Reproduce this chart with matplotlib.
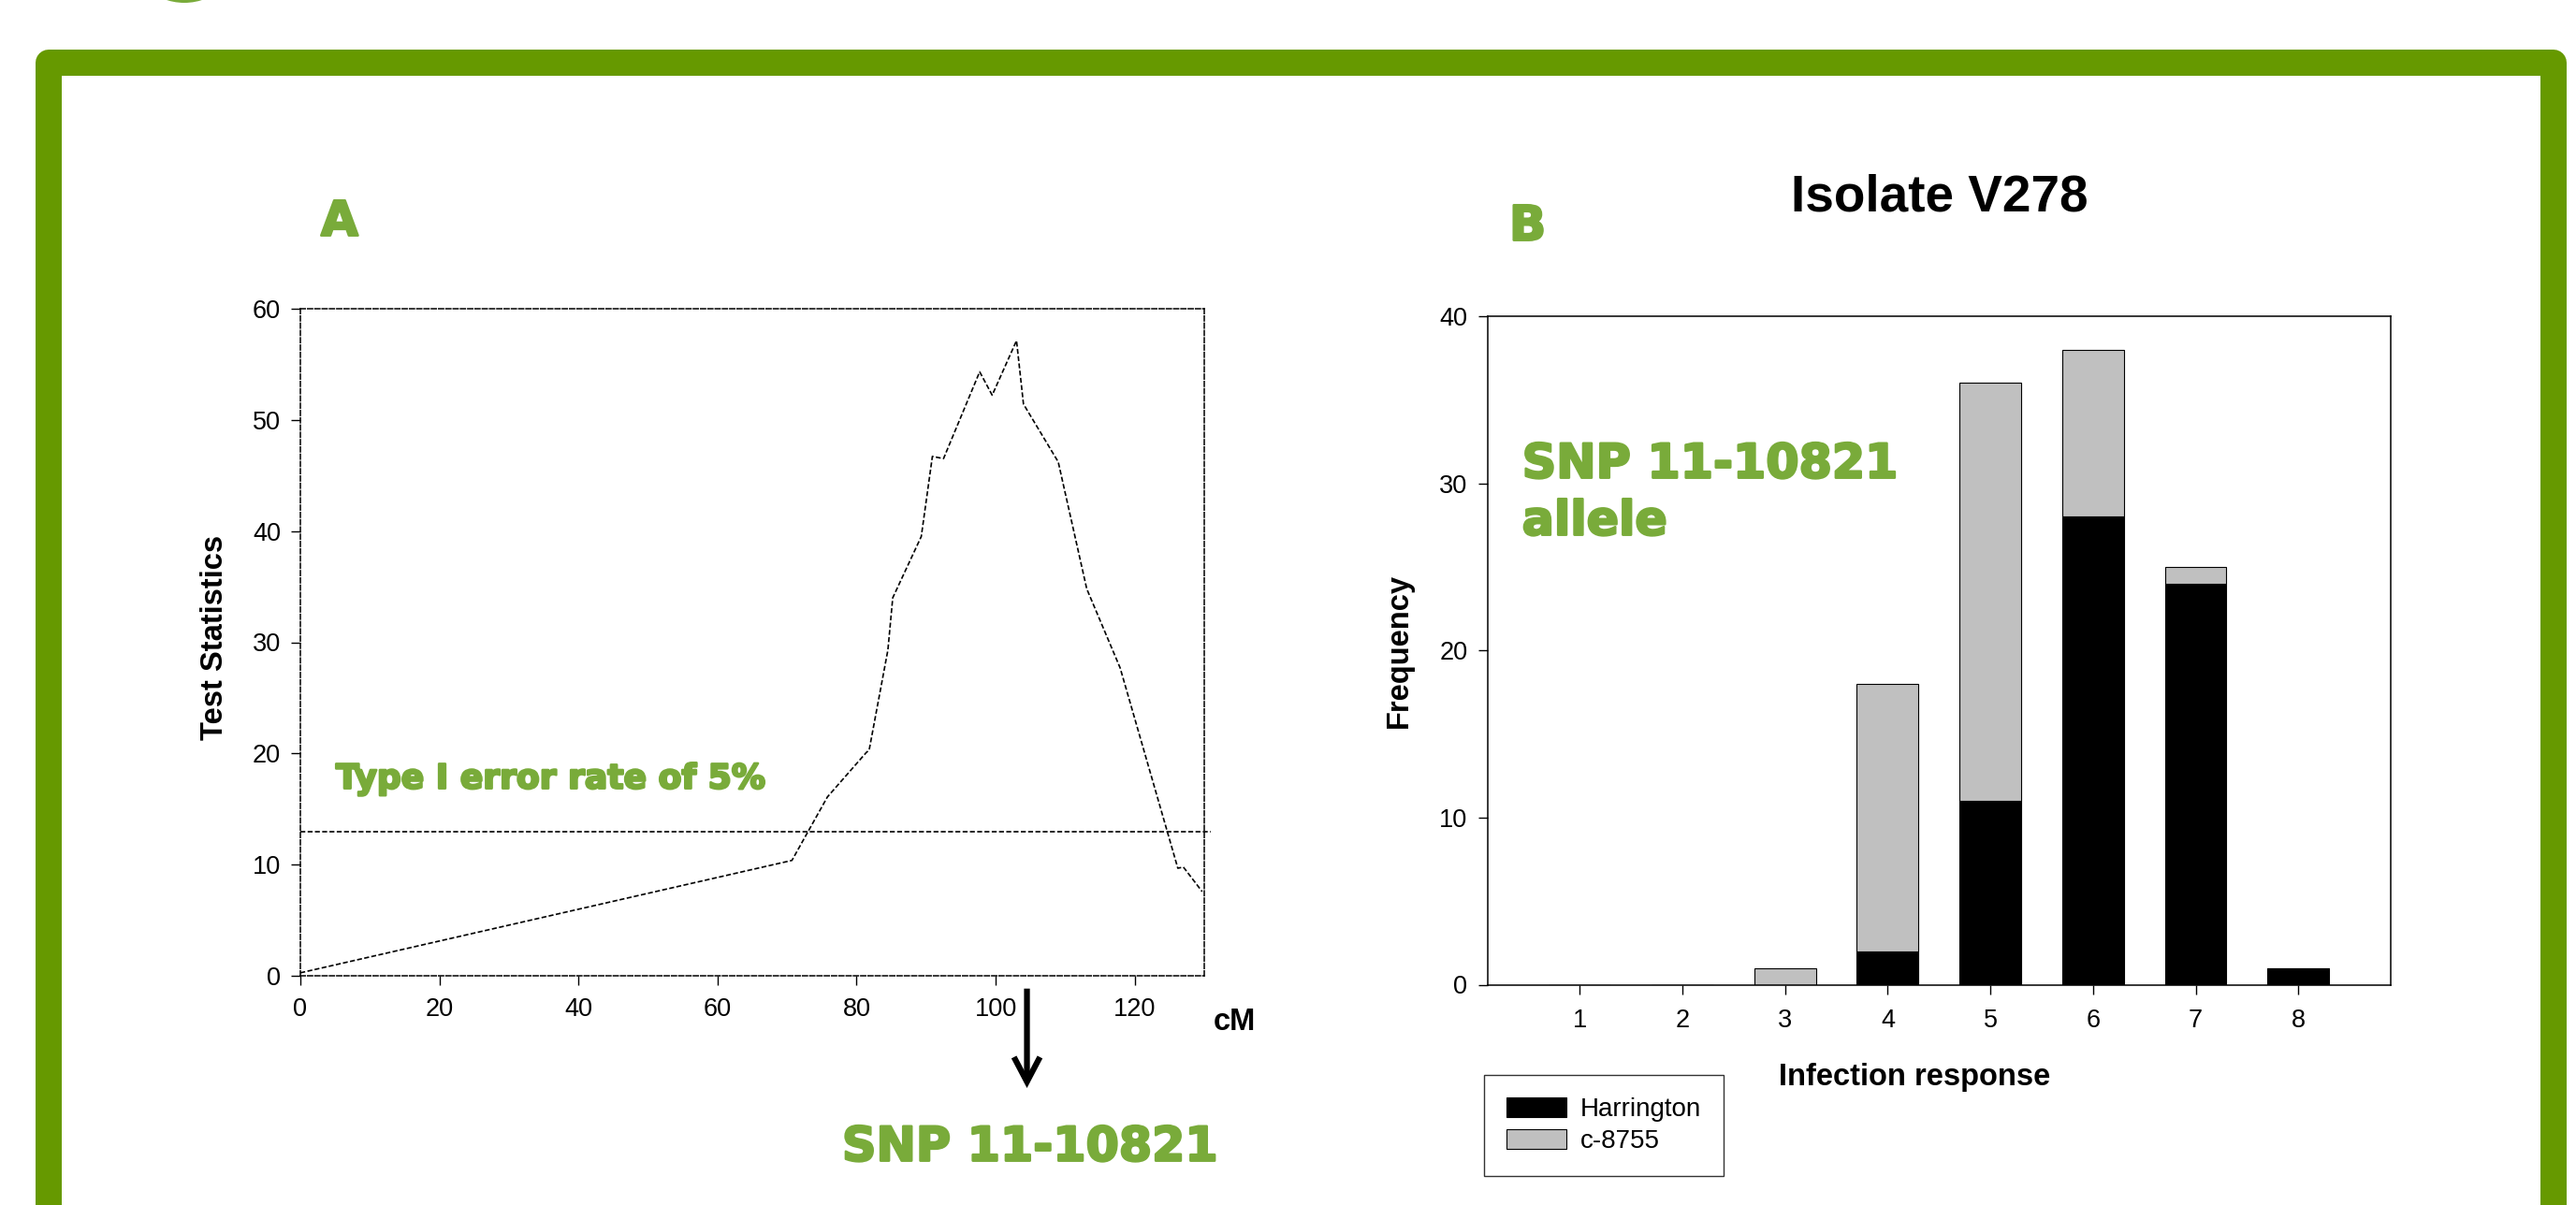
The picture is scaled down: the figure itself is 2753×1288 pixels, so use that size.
import matplotlib
matplotlib.use("Agg")
import matplotlib.pyplot as plt
from matplotlib.patches import Rectangle, Ellipse, FancyArrowPatch
import matplotlib.patheffects as pe

plt.rcParams['lines.scale_dashes'] = False

# ---------------- data ----------------
# Panel A: test statistic along the chromosome
cm_pos = [0, 70.7, 75.8, 81.4, 81.8, 84.5, 85.2, 89.3, 90.9, 92.5, 97.7, 99.5,
          103.0, 104.0, 109.0, 113.1, 117.9, 126.2, 127.0, 129.7]
test_stat = [0.3, 10.4, 16.1, 20.1, 20.3, 29.3, 34.0, 39.5, 46.7, 46.5, 54.3, 52.2,
             57.1, 51.4, 46.2, 34.8, 27.7, 9.7, 9.8, 7.6]
threshold = 13.0
a_xticks = [0, 20, 40, 60, 80, 100, 120]
a_yticks = [0, 10, 20, 30, 40, 50, 60]
snp_pos = 104.5

# Panel B: stacked frequencies per infection response
responses = [1, 2, 3, 4, 5, 6, 7, 8]
harrington = [0, 0, 0, 2, 11, 28, 24, 1]
c8755 = [0, 0, 1, 16, 25, 10, 1, 0]
b_yticks = [0, 10, 20, 30, 40]

W, H = 2753, 1288
fig = plt.figure(figsize=(W / 100, H / 100), dpi=100)
fig.patch.set_facecolor('white')

GREEN_TXT = '#79AB3A'
GREEN_FRAME = '#669900'
SANS = 'Liberation Sans'
HEAVY = 'DejaVu Sans'
thick = [pe.withStroke(linewidth=1.8, foreground=GREEN_TXT)]


def fx(px):
    return px / W


def fy(py):
    return 1 - py / H


def green_text(px, py, s, size, ha='left'):
    fig.text(fx(px), fy(py), s, ha=ha, va='baseline', fontsize=size,
             fontweight='bold', family=HEAVY, color=GREEN_TXT, path_effects=thick)


# frame and decoration
fig.add_artist(Rectangle((fx(51.5), -0.2), fx(2728.5) - fx(51.5), fy(67) + 0.2,
                         transform=fig.transFigure, fill=False, edgecolor=GREEN_FRAME,
                         linewidth=28 * 0.72, joinstyle='round', zorder=0))
fig.add_artist(Ellipse((fx(197), fy(-58.7)), 2 * 61.7 / W, 2 * 61.7 / H,
                       transform=fig.transFigure, facecolor=GREEN_TXT, edgecolor='none'))

# ---------------- Panel A ----------------
axA = fig.add_axes([fx(321), fy(1043.4), fx(1287) - fx(321), fy(329.6) - fy(1043.4)])
dash = (0, (3.8, 1.8))
axA.plot(cm_pos, test_stat, color='black', lw=1.2, linestyle=dash)
axA.plot([0, 131], [threshold, threshold], color='black', lw=1.2, linestyle=dash,
         clip_on=False)
axA.set_xlim(0, 130)
axA.set_ylim(0, 60)
axA.set_xticks(a_xticks)
axA.set_yticks(a_yticks)
for s in axA.spines.values():
    s.set_linestyle(dash)
    s.set_linewidth(1.1)
axA.tick_params(direction='out', length=7.2, width=1.0, labelsize=19.5, pad=8)
axA.tick_params(axis='x', pad=9)
for lab in axA.get_xticklabels() + axA.get_yticklabels():
    lab.set_family(SANS)

fig.text(fx(229), fy(681), 'Test Statistics', rotation=90, ha='center', va='center',
         fontsize=23.5, fontweight='bold', family=SANS)
fig.text(fx(1297), fy(1101), 'cM', ha='left', va='baseline',
         fontsize=23.5, fontweight='bold', family=SANS)
green_text(343, 251.7, 'A', 37)
green_text(359, 842.7, 'Type I error rate of 5%', 26)

# arrow to SNP
x_arrow_px = 321 + snp_pos * (1287 - 321) / 130
fig.add_artist(FancyArrowPatch(
    (fx(x_arrow_px), fy(1056.7)), (fx(x_arrow_px), fy(1163)),
    transform=fig.transFigure, arrowstyle='->,head_length=0.95,head_width=0.5',
    mutation_scale=20, lw=4.5, color='black', shrinkA=0, shrinkB=0, joinstyle='miter',
    capstyle='butt'))
green_text(1101, 1240.7, 'SNP 11-10821', 36.5, ha='center')

# ---------------- Panel B ----------------
axB = fig.add_axes([fx(1589.5), fy(1052.5), fx(2555) - fx(1589.5), fy(338) - fy(1052.5)])
bars_h = axB.bar(responses, harrington, width=0.6, color='black', edgecolor='black', lw=0.8,
                 label='Harrington')
bars_c = axB.bar(responses, c8755, width=0.6, bottom=harrington, color='#C0C0C0',
                 edgecolor='black', lw=0.8, label='c-8755')
axB.set_xlim(0.1, 8.9)
axB.set_ylim(0, 40)
axB.set_xticks(responses)
axB.set_yticks(b_yticks)
for s in axB.spines.values():
    s.set_linewidth(1.1)
axB.tick_params(direction='out', length=7.2, width=1.0, labelsize=19.5, pad=8)
axB.tick_params(axis='x', pad=11)
for lab in axB.get_xticklabels() + axB.get_yticklabels():
    lab.set_family(SANS)

fig.text(fx(1495), fy(695), 'Frequency', rotation=90, ha='center', va='center',
         fontsize=23.5, fontweight='bold', family=SANS)
fig.text(fx(2046), fy(1160), 'Infection response', ha='center', va='baseline',
         fontsize=23.5, fontweight='bold', family=SANS)
fig.text(fx(2073), fy(225.7), 'Isolate V278', ha='center', va='baseline',
         fontsize=39.6, fontweight='bold', family=SANS)
green_text(1613, 256.7, 'B', 37)
green_text(1626.7, 510.7, 'SNP 11-10821', 36.5)
green_text(1626.7, 571.7, 'allele', 36.5)

leg = fig.legend(handles=[bars_h, bars_c], labels=['Harrington', 'c-8755'],
                 loc='upper left', bbox_to_anchor=(fx(1586), fy(1149.3)),
                 bbox_transform=fig.transFigure, borderaxespad=0,
                 prop={'family': SANS, 'size': 20}, fancybox=False, frameon=True,
                 edgecolor='black', handlelength=2.3, handleheight=0.78,
                 handletextpad=0.55, labelspacing=0.3, borderpad=0.85)
leg.get_frame().set_linewidth(1.0)

fig.savefig('out.png', dpi=100, facecolor='white')
